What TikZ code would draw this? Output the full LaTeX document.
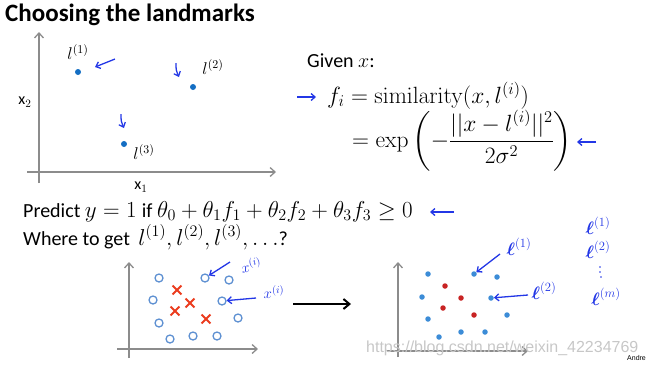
\RequirePackage{fix-cm}
\documentclass[tikz,border=0pt]{standalone}
\usepackage{amsmath}
\usepackage[no-math]{fontspec}
\setmainfont{Carlito}
\newfontfamily\wmfont{Liberation Sans}
\usetikzlibrary{arrows.meta,shapes.misc}
\definecolor{ptblue}{RGB}{20,110,195}
\definecolor{dotblue}{RGB}{60,140,215}
\definecolor{ringblue}{RGB}{95,145,210}
\definecolor{xred}{RGB}{235,60,30}
\definecolor{dotred}{RGB}{200,35,35}
\definecolor{ink}{RGB}{35,55,230}
\definecolor{axisgray}{RGB}{140,140,140}
\tikzset{
  axis/.style={draw=axisgray, line width=1.3pt, -{Straight Barb[length=5pt,width=9pt]}},
  bluept/.style={circle, fill=ptblue, inner sep=0pt, minimum size=6pt},
  bdot/.style={circle, fill=dotblue, inner sep=0pt, minimum size=5.5pt},
  rdot/.style={circle, fill=dotred, inner sep=0pt, minimum size=5.5pt},
  ring/.style={circle, draw=ringblue, line width=1.3pt, inner sep=0pt, minimum size=8pt},
  cross/.style={cross out, draw=xred, line width=1.8pt, inner sep=0pt, minimum size=7pt},
  inkdot/.style={circle, fill=ink, inner sep=0pt, minimum size=1.8pt},
  hand/.style={draw=ink, line width=1.3pt, -{Straight Barb[length=4pt,width=7pt]}},
  handtxt/.style={text=ink, inner sep=0pt, font=\fontsize{15}{15}\selectfont},
  bighand/.style={text=ink, inner sep=0pt, font=\fontsize{18}{18}\selectfont},
  lbl/.style={inner sep=0pt, font=\fontsize{17}{17}\selectfont},
  txt/.style={inner sep=0pt, anchor=base west, font=\fontsize{20}{24}\selectfont},
}
\newcommand{\mth}{\fontsize{23.5}{27}\selectfont}
\newcommand{\mthp}{\fontsize{23}{27}\selectfont}
\newcommand{\txs}{\fontsize{20}{24}\selectfont}
\begin{document}
\begin{tikzpicture}[x=1pt,y=-1pt]
\useasboundingbox (0,0) rectangle (647,365);
% title
\node[txt, font=\fontsize{25}{28}\selectfont\bfseries] (title) at (5,21) {Choosing the landmarks};
% top-left plot
\coordinate (ya0) at (39,183); \coordinate (ya1) at (39,32);
\coordinate (xa0) at (27,172); \coordinate (xa1) at (276,172);
\draw[axis] (ya0) -- (ya1);
\draw[axis] (xa0) -- (xa1);
\node[lbl, font=\fontsize{16}{16}\selectfont] (x2) at (25,102) {x$_2$};
\node[lbl, font=\fontsize{16}{16}\selectfont] (x1) at (141,187) {x$_1$};
\node[bluept] (p1) at (78,72) {};
\node[bluept] (p2) at (193,87) {};
\node[bluept] (p3) at (124,144) {};
\node[lbl] (l1) at (78,52) {$l^{(1)}$};
\node[lbl] (l2) at (213,67) {$l^{(2)}$};
\node[lbl] (l3) at (144,152) {$l^{(3)}$};
\coordinate (a1s) at (115,59); \coordinate (a1e) at (95,67);
\coordinate (a2s) at (176,63); \coordinate (a2e) at (179,77);
\coordinate (a3s) at (121,114); \coordinate (a3e) at (124,128);
\draw[hand] (a1s) -- (a1e);
\draw[hand] (a2s) .. controls (176,70) .. (a2e);
\draw[hand] (a3s) .. controls (121,121) .. (a3e);
% formula
\node[txt] (given) at (307,67) {Given $x$:};
\node[txt, font=\mth] (fi) at (327,103) {$f_i = \mathrm{similarity}(x, l^{(i)})$};
\node[inner sep=0pt, anchor=west, font=\mth] (ex) at (352,141)
  {$\displaystyle = \exp\left(-\frac{||x - l^{(i)}||^2}{2\sigma^2}\right)$};
\coordinate (fa0) at (297,97); \coordinate (fa1) at (316,97);
\draw[hand] (fa0) -- (fa1);
\coordinate (ea0) at (596,142); \coordinate (ea1) at (577,142);
\draw[hand] (ea0) -- (ea1);
% predict
\node[txt] (pred) at (23,217) {Predict \mthp$y=1$ \txs if \mthp$\theta_0+\theta_1f_1+\theta_2f_2+\theta_3f_3\geq 0$};
\coordinate (pa0) at (454,212); \coordinate (pa1) at (430,212);
\draw[hand] (pa0) -- (pa1);
\node[txt] (where) at (23,245) {Where to get \mthp$\,l^{(1)},l^{(2)},l^{(3)},\ldots$\txs?};
% lower-left plot
\coordinate (lya0) at (129,358); \coordinate (lya1) at (129,262);
\coordinate (lxa0) at (117,349); \coordinate (lxa1) at (258,349);
\draw[axis] (lya0) -- (lya1);
\draw[axis] (lxa0) -- (lxa1);
\foreach \p/\q [count=\i] in {159/278,205/278,229/280,153/300,222/301,159/323,238/318,170/339,193/336,217/336}
  \node[ring] (r\i) at (\p,\q) {};
\foreach \p/\q [count=\i] in {177/290,190/303,175/311,206/319}
  \node[cross] (c\i) at (\p,\q) {};
\coordinate (h1s) at (230,262); \coordinate (h2s) at (256,298);
\draw[hand] (h1s) -- (r2);
\draw[hand] (h2s) -- (r5);
\node[handtxt, rotate=12] (hx1) at (251,265) {$x^{(i)}$};
\node[handtxt] (hx2) at (274,292) {$x^{(i)}$};
% middle arrow
\coordinate (m0) at (293,304); \coordinate (m1) at (351,304);
\draw[line width=2pt, -{Straight Barb[length=6pt,width=10pt]}] (m0) -- (m1);
% lower-right plot
\coordinate (rya0) at (398,357); \coordinate (rya1) at (398,262);
\coordinate (rxa0) at (387,351); \coordinate (rxa1) at (528,351);
\draw[axis] (rya0) -- (rya1);
\draw[axis] (rxa0) -- (rxa1);
\foreach \p/\q [count=\i] in {428/274,474/274,497/277,422/297,491/298,428/319,507/315,439/337,461/332,485/332}
  \node[bdot] (b\i) at (\p,\q) {};
\foreach \p/\q [count=\i] in {445/286,461/298,443/308,474/315}
  \node[rdot] (d\i) at (\p,\q) {};
\coordinate (k1s) at (500,254); \coordinate (k2s) at (528,295);
\draw[hand] (k1s) -- (b2);
\draw[hand] (k2s) -- (b5);
\node[bighand] (hl1) at (519,247) {$\boldsymbol{\ell}^{(1)}$};
\node[bighand] (hl2) at (544,291) {$\boldsymbol{\ell}^{(2)}$};
\node[bighand] (cl1) at (598,226) {$\boldsymbol{\ell}^{(1)}$};
\node[bighand] (cl2) at (598,250) {$\boldsymbol{\ell}^{(2)}$};
\node[inkdot] (vd1) at (600,267) {};
\node[inkdot] (vd2) at (600,272) {};
\node[inkdot] (vd3) at (601,277) {};
\node[bighand] (clm) at (606,297) {$\boldsymbol{\ell}^{(m)}$};
% watermark and credit
\node[inner sep=0pt, anchor=base west, text=black!22, font=\wmfont\fontsize{16}{16}\selectfont] (wm) at (366,352) {https://blog.csdn.net/weixin\_42234769};
\node[inner sep=0pt, anchor=base west, font=\wmfont\fontsize{7}{7}\selectfont] (andre) at (627,360) {Andre};
\end{tikzpicture}
\end{document}
